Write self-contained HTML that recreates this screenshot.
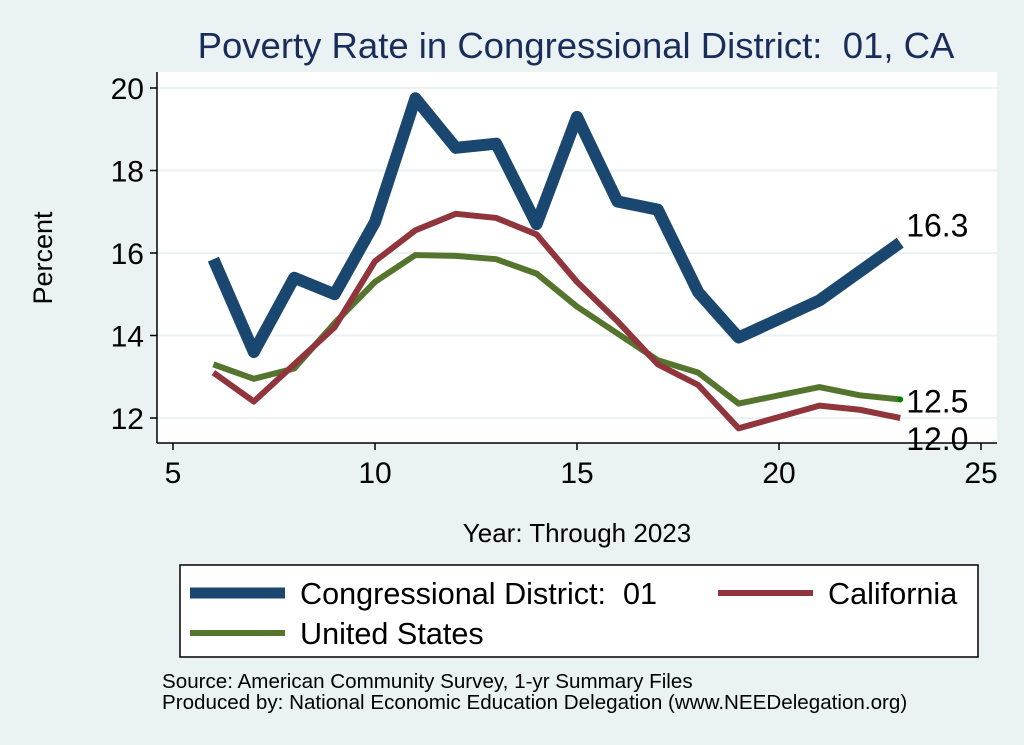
<!DOCTYPE html>
<html><head><meta charset="utf-8"><style>
body{margin:0;background:#eaf2f3;}
svg{display:block;font-family:"Liberation Sans",Arial,sans-serif;}
text{white-space:pre;}
</style></head><body>
<svg width="1024" height="745" viewBox="0 0 1024 745" xml:space="preserve">
<rect x="0" y="0" width="1024" height="745" fill="#eaf2f3"/>
<text x="576" y="58" font-size="36.5" fill="#1a2d5a" text-anchor="middle">Poverty Rate in Congressional District:  01, CA</text>
<rect x="157" y="72" width="840" height="371" fill="#fff"/>
<g id="grid"></g>
<g id="axes"></g>
<g id="series"></g>
<text x="52" y="258" font-size="27" text-anchor="middle" transform="rotate(-90 52 258)">Percent</text>
<text x="577" y="542" font-size="26" text-anchor="middle">Year: Through 2023</text>
<g>
<rect x="180" y="565" width="798" height="92" fill="#fff" stroke="#000" stroke-width="1.5"/>
<line x1="190" y1="593" x2="285" y2="593" stroke="#1a476f" stroke-width="11"/>
<text x="300" y="604" font-size="30.6">Congressional District:  01</text>
<line x1="718" y1="593" x2="813" y2="593" stroke="#90353b" stroke-width="6"/>
<text x="828" y="604" font-size="30.6">California</text>
<line x1="190" y1="633" x2="285" y2="633" stroke="#55752f" stroke-width="6"/>
<text x="300" y="644" font-size="30.6">United States</text>
</g>
<text x="162" y="688" font-size="20.6">Source: American Community Survey, 1-yr Summary Files</text>
<text x="162" y="709" font-size="20.6">Produced by: National Economic Education Delegation (www.NEEDelegation.org)</text>
</svg>
<script>
const years=[6,7,8,9,10,11,12,13,14,15,16,17,18,19,21,22,23];
const cdValues=[15.85,13.6,15.4,15.0,16.75,19.75,18.55,18.65,16.7,19.3,17.25,17.05,15.05,13.95,14.85,15.55,16.25];
const caValues=[13.1,12.4,13.3,14.2,15.8,16.55,16.95,16.85,16.45,15.3,14.35,13.3,12.8,11.75,12.3,12.2,12.0];
const usValues=[13.3,12.95,13.2,14.3,15.3,15.95,15.93,15.85,15.5,14.7,14.05,13.4,13.1,12.35,12.75,12.55,12.45];
const xTicks=[5,10,15,20,25];
const yTicks=[12,14,16,18,20];
const endLabels=["16.3","12.0","12.5"];
const NS="http://www.w3.org/2000/svg";
const X=v=>173+(v-5)*40.4, Y=v=>418-(v-12)*41.25;
function mk(tag,attrs,parent){const e=document.createElementNS(NS,tag);for(const k in attrs)e.setAttribute(k,attrs[k]);parent.appendChild(e);return e;}
const grid=document.getElementById('grid'),axes=document.getElementById('axes'),ser=document.getElementById('series');
yTicks.forEach(t=>{
 const g=mk('line',{x1:157,x2:997,y1:Y(t),y2:Y(t),stroke:'#eaf2f3','stroke-width':2},grid);
 
 
 const tk=mk('line',{x1:150,x2:157,y1:Y(t),y2:Y(t),stroke:'#000','stroke-width':1.5},axes);
 
 
 const tx=mk('text',{x:144,y:Y(t)+11,'font-size':30,'text-anchor':'end'},axes);tx.textContent=t;
 
 
});
xTicks.forEach(t=>{
 const tk=mk('line',{x1:X(t),x2:X(t),y1:443,y2:450,stroke:'#000','stroke-width':1.5},axes);
 
 
 const tx=mk('text',{x:X(t),y:483,'font-size':30,'text-anchor':'middle'},axes);tx.textContent=t;
 
 
});
const ya=mk('line',{x1:157,x2:157,y1:72,y2:443,stroke:'#000','stroke-width':1.5},axes);


const xa=mk('line',{x1:157,x2:997,y1:443,y2:443,stroke:'#000','stroke-width':1.5},axes);


function line(vals,color,w,name){
 const p=mk('polyline',{points:vals.map((v,i)=>X(years[i])+','+Y(v)).join(' '),fill:'none',stroke:color,'stroke-width':w,'stroke-linejoin':'round'},ser);
 
 
}
line(usValues,'#55752f',6,'us-line');
line(caValues,'#90353b',6,'ca-line');
line(cdValues,'#1a476f',12,'cd-line');
const last=years.length-1;
const dot=mk('circle',{cx:X(years[last]),cy:Y(usValues[last]),r:3,fill:'#008000'},ser);


[[cdValues,endLabels[0],-6,'cd-end-label'],[caValues,endLabels[1],32,'ca-end-label'],[usValues,endLabels[2],13,'us-end-label']].forEach(a=>{
 const t=mk('text',{x:X(years[last])+6,y:Y(a[0][last])+a[2],'font-size':32},ser);t.textContent=a[1];
 
 
});
</script>
</body></html>
